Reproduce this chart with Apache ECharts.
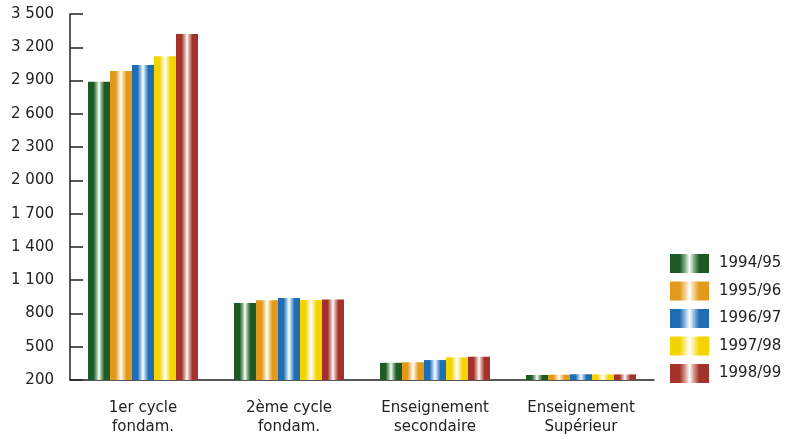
<!DOCTYPE html>
<html>
<head>
<meta charset="utf-8">
<script src="https://cdn.jsdelivr.net/npm/echarts@6/dist/echarts.min.js"></script>
<style>
html,body{margin:0;padding:0;background:#fff;}
#c{width:789px;height:439px;}
</style>
</head>
<body>
<div id="c"></div>
<script>
var categories = ['1er cycle\nfondam.', '2ème cycle\nfondam.', 'Enseignement\nsecondaire', 'Enseignement\nSupérieur'];
var seriesNames = ['1994/95', '1995/96', '1996/97', '1997/98', '1998/99'];
var v1994 = [2890, 895, 355, 245];
var v1995 = [2985, 920, 360, 248];
var v1996 = [3040, 940, 380, 252];
var v1997 = [3120, 922, 404, 250];
var v1998 = [3320, 926, 410, 250];
var yTicks = [200, 500, 800, 1100, 1400, 1700, 2000, 2300, 2600, 2900, 3200, 3500];

var values = [v1994, v1995, v1996, v1997, v1998];
var colors = ['#1d5a26', '#e39a1a', '#1f6db3', '#f4d400', '#a3322a'];
var lights = ['#8fb892', '#f3d49a', '#9cc3e6', '#fbee9a', '#d9a39a'];

function grad(c, l) {
  return new echarts.graphic.LinearGradient(0, 0, 1, 0, [
    {offset: 0, color: c},
    {offset: 0.25, color: c},
    {offset: 0.4, color: l},
    {offset: 0.5, color: '#ffffff'},
    {offset: 0.6, color: l},
    {offset: 0.75, color: c},
    {offset: 1, color: c}
  ]);
}

var series = seriesNames.map(function (n, i) {
  return {
    name: n,
    type: 'bar',
    data: values[i],
    barWidth: 22,
    barGap: '0%',
    itemStyle: {color: grad(colors[i], lights[i])}
  };
});

var font = 'DejaVu Sans';
var chart = echarts.init(document.getElementById('c'));
chart.setOption({
  animation: false,
  backgroundColor: '#ffffff',
  grid: {left: 70, right: 135, top: 14, bottom: 59},
  legend: {
    orient: 'vertical',
    left: 665,
    top: 249,
    itemWidth: 39,
    itemHeight: 19,
    itemGap: 8.5,
    icon: 'rect',
    textStyle: {fontFamily: font, fontSize: 15, color: '#222', padding: [0, 0, 0, 5]},
    data: seriesNames
  },
  xAxis: {
    type: 'category',
    data: categories,
    axisLine: {lineStyle: {color: '#222', width: 1.5}},
    axisTick: {inside: true, length: 8, lineStyle: {color: '#222', width: 1.5}},
    axisLabel: {
      fontFamily: font, fontSize: 15, color: '#222', margin: 19, lineHeight: 19
    }
  },
  yAxis: {
    type: 'value',
    min: 200,
    max: 3500,
    interval: 300,
    axisLine: {show: true, lineStyle: {color: '#222', width: 1.5}},
    axisTick: {show: true, inside: true, length: 13, lineStyle: {color: '#222', width: 1.5}},
    splitLine: {show: false},
    axisLabel: {
      fontFamily: font, fontSize: 15, color: '#222', margin: 16,
      formatter: function (v) {
        if (yTicks.indexOf(v) < 0) return '';
        var s = String(v);
        return s.length > 3 ? s.slice(0, s.length - 3) + ' ' + s.slice(-3) : s;
      }
    }
  },
  series: series
});
</script>
</body>
</html>
